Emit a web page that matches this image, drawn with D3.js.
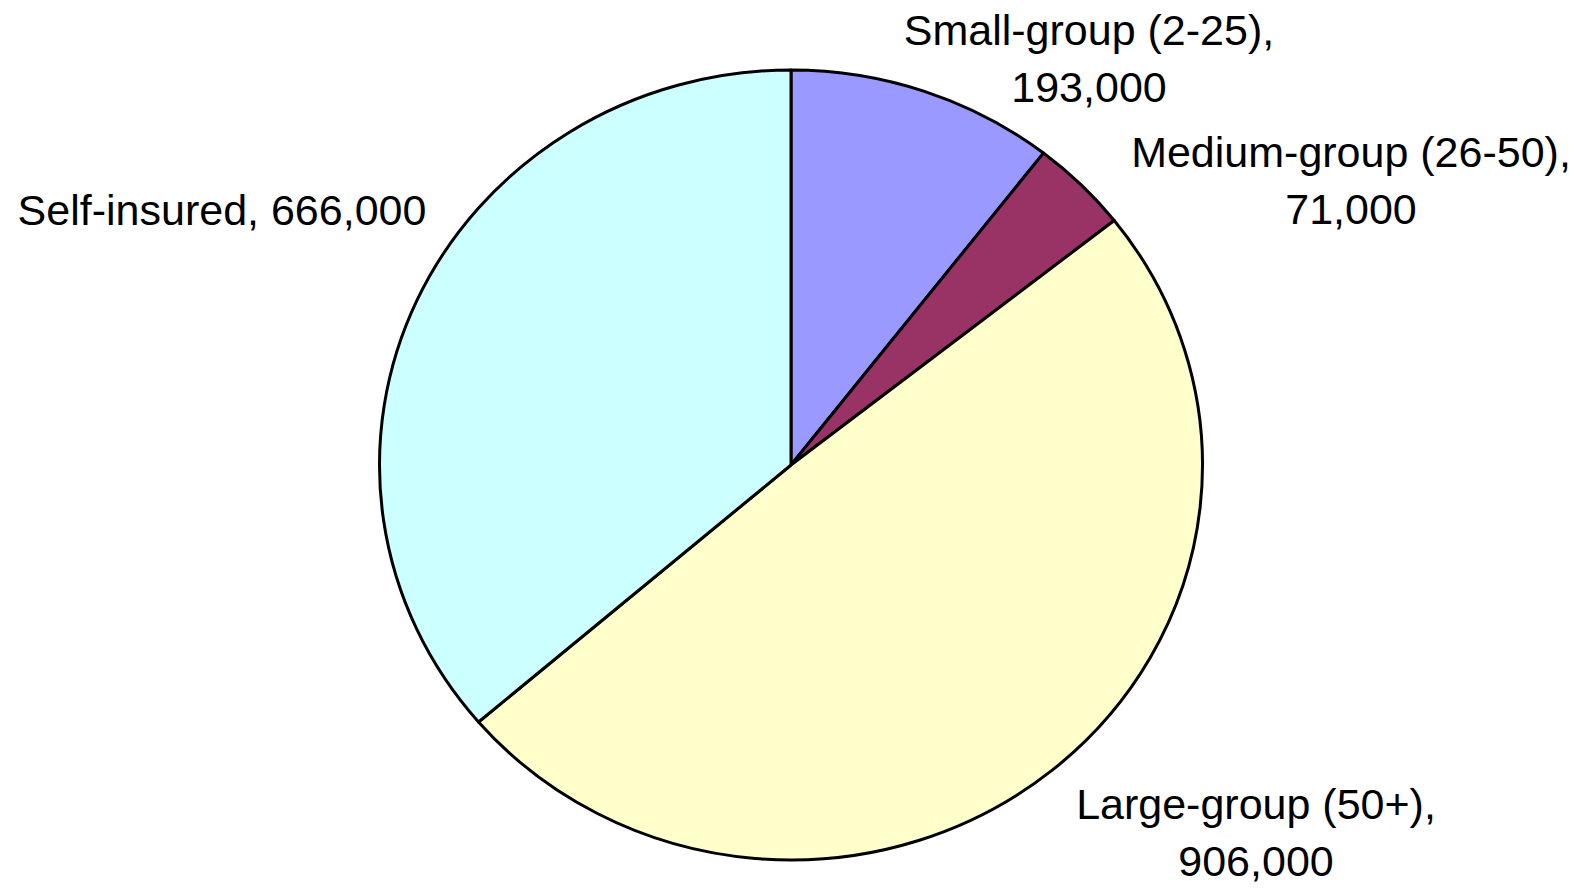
<!DOCTYPE html>
<html>
<head>
<meta charset="utf-8">
<script src="https://cdn.jsdelivr.net/npm/d3@7"></script>
<style>
  html, body { margin: 0; padding: 0; background: #ffffff; }
  svg { display: block; }
  text { font-family: "Liberation Sans", Arial, sans-serif; fill: #000; }
</style>
</head>
<body>
<svg id="chart" width="1589" height="888"></svg>
<script>
// ---- data ----
const categories = ["Small-group (2-25)", "Medium-group (26-50)", "Large-group (50+)", "Self-insured"];
const values = [193000, 71000, 906000, 666000];
const colors = ["#9999FF", "#993366", "#FFFFCC", "#CCFFFF"];
// label line layout: which categories print on two lines
const twoLine = [true, true, true, false];
// label anchor (center x, first baseline y)
const labelAnchors = [[1089, 45], [1351, 167], [1256, 819], [222, 225]];

// ---- layout ----
const W = 1589, H = 888;
const cx = 791, cy = 465;
const rx = 411.5, ry = 395;

const svg = d3.select("#chart");
const fmt = d3.format(",");

const pie = d3.pie().sort(null).value(d => d.value).startAngle(0).endAngle(2 * Math.PI);
const data = categories.map((c, i) => ({ name: c, value: values[i], color: colors[i] }));
const arcs = pie(data);
const arc = d3.arc().innerRadius(0).outerRadius(rx);

const g = svg.append("g")
  .attr("transform", `translate(${cx},${cy}) scale(1,${ry / rx})`);

g.selectAll("path")
  .data(arcs)
  .join("path")
  .attr("d", arc)
  .attr("fill", d => d.data.color)
  .attr("stroke", "#000")
  .attr("stroke-width", 3)
  .attr("stroke-linejoin", "round")
  .attr("vector-effect", "non-scaling-stroke");

const lineH = 57;
const labels = svg.append("g").attr("font-size", 43).attr("text-anchor", "middle");
data.forEach((d, i) => {
  const [x, y] = labelAnchors[i];
  const t = labels.append("text").attr("x", x).attr("y", y);
  if (twoLine[i]) {
    t.append("tspan").attr("x", x).attr("y", y).text(d.name + ",");
    t.append("tspan").attr("x", x).attr("y", y + lineH).text(fmt(d.value));
  } else {
    t.text(d.name + ", " + fmt(d.value));
  }
});
</script>
</body>
</html>
